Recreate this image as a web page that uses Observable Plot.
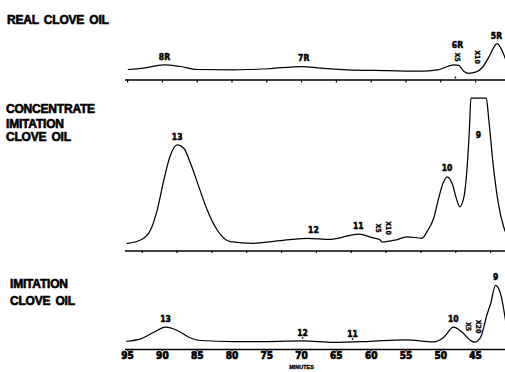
<!DOCTYPE html>
<html><head><meta charset="utf-8">
<script src="https://cdn.jsdelivr.net/npm/d3@7"></script>
<script src="https://cdn.jsdelivr.net/npm/@observablehq/plot@0.6"></script>
<style>
html,body{margin:0;padding:0;background:#fff;}
#chart{position:relative;width:505px;height:372px;overflow:hidden;background:#fff;}
.ttl{position:absolute;font:bold 12px "Liberation Sans",Arial,sans-serif;letter-spacing:-0.2px;word-spacing:2px;color:#000;line-height:12px;white-space:nowrap;-webkit-text-stroke:0.6px #000;}
.panel{position:absolute;left:0;}
</style></head>
<body><div id="chart"></div>
<script>
// ---- data (time in minutes, detector response in chart units) ----
const minuteTicks = [95, 90, 85, 80, 75, 70, 65, 60, 55, 50, 45];

// Real clove oil
const realTitle = ["REAL CLOVE OIL"];
const realMin  = [94.9, 92.7, 89.8, 87.4, 85.0, 79.7, 74.9, 69.9, 67.3, 63.4, 57.7, 52.9, 50.5, 48.1, 47.4, 46.7, 46.0, 45.0, 44.0, 43.1, 41.9, 41.2, 40.7];
const realResp = [7.0, 7.9, 10.1, 9.0, 7.0, 6.8, 7.5, 9.0, 7.9, 6.8, 6.3, 5.9, 6.7, 10.1, 9.7, 5.9, 4.5, 5.2, 8.5, 15.2, 24.3, 19.7, 14.0];
const realPeakLabels = ["8R", "7R", "6R", "5R"];
const realPeakMin = [89.7, 69.7, 47.6, 42.0];
const realAttnLabels = ["X5", "X10"];
const realAttnMin = [47.6, 44.7];
const realAxisMarkMin = [47.9];
const realCurveMarkMin = [];

// Concentrate imitation clove oil
const concTitle = ["CONCENTRATE", "IMITATION", "CLOVE OIL"];
const concMin  = [97.15, 95.24, 93.81, 92.85, 91.90, 90.94, 89.98, 89.03, 88.07, 86.88, 85.67, 84.24, 82.33, 79.03, 75.63, 71.33, 67.98, 63.97, 61.81, 60.95, 60.52, 58.66, 56.98, 54.83, 54.11, 53.16, 52.45, 51.82, 51.24, 50.52, 49.91, 49.43, 48.86, 48.37, 48.00, 47.82, 45.60, 45.27, 44.56, 43.84, 43.12, 42.88];
const concResp = [5.1, 7.3, 14.0, 27.3, 47.3, 64.0, 70.7, 68.5, 58.5, 42.9, 27.3, 14.0, 6.2, 5.1, 6.7, 8.5, 7.8, 11.3, 8.7, 7.7, 6.0, 7.3, 9.5, 8.5, 12.9, 21.8, 35.1, 45.1, 49.5, 45.1, 35.1, 29.5, 35.1, 55.1, 84.0, 102, 102, 88.5, 55.1, 30.7, 16.2, 12.9];
const concFullScale = 102;
const concPeakLabels = ["13", "12", "11", "10", "9"];
const concPeakMin = [89.98, 70.42, 63.97, 51.24, 46.75];
const concAttnLabels = ["X5", "X10"];
const concAttnMin = [61.05, 59.62];

// Imitation clove oil
const imitTitle = ["IMITATION", "CLOVE OIL"];
const imitMin  = [95.14, 93.13, 91.22, 89.54, 87.86, 86.19, 84.51, 79.73, 74.93, 69.90, 65.36, 60.56, 55.06, 51.0, 49.56, 48.20, 46.91, 45.72, 45.14, 44.28, 43.32, 42.84, 42.13, 41.41, 40.69];
const imitResp = [5.5, 7.1, 11.5, 14.9, 12.7, 8.2, 6.0, 5.3, 5.3, 5.8, 4.7, 5.3, 6.5, 5.1, 8.2, 14.9, 11.5, 6.0, 4.9, 8.2, 23.8, 30.5, 42.7, 37.1, 19.3];
const imitPeakLabels = ["13", "12", "11", "10", "9"];
const imitPeakMin = [89.54, 69.86, 62.67, 48.2, 42.13];
const imitAttnLabels = ["X5", "X20"];
const imitAttnMin = [46.1, 44.6];
const imitCurveMarkMin = [69.86, 62.67];
const axisTitle = "MINUTES";

// ---- drawing ----
const NARROW = '"Liberation Sans Narrow","DejaVu Sans Condensed","Liberation Sans",Arial,sans-serif';
const chart = document.getElementById("chart");

function interp(mins, vals, t) {
  for (let i = 0; i < mins.length - 1; i++) {
    const a = mins[i], b = mins[i + 1];
    if ((t <= a && t >= b) || (t >= a && t <= b)) {
      const f = (t - a) / (b - a);
      return vals[i] + f * (vals[i + 1] - vals[i]);
    }
  }
  return vals[0];
}

const panels = [
  {title: realTitle, titleX: 7, titleBase: [24.5], min: realMin, resp: realResp, domain: [95.3, 40.7],
   top: 0, height: 90, axis: 79.5, peakLabels: realPeakLabels, peakMin: realPeakMin,
   attnLabels: realAttnLabels, attnMin: realAttnMin, axisMarks: realAxisMarkMin, curveMarks: realCurveMarkMin,
   fullScale: Infinity, tickSize: 3, tickLabels: false},
  {title: concTitle, titleX: 6, titleBase: [113.5, 128, 141.5], min: concMin, resp: concResp, domain: [97.4, 42.85],
   top: 90, height: 170, axis: 250.5, peakLabels: concPeakLabels, peakMin: concPeakMin,
   attnLabels: concAttnLabels, attnMin: concAttnMin, axisMarks: [], curveMarks: [],
   fullScale: concFullScale, tickSize: 2.5, tickLabels: false},
  {title: imitTitle, titleX: 10, titleBase: [288, 305.5], min: imitMin, resp: imitResp, domain: [95.3, 40.7],
   top: 260, height: 112, axis: 349, peakLabels: imitPeakLabels, peakMin: imitPeakMin,
   attnLabels: imitAttnLabels, attnMin: imitAttnMin, axisMarks: [], curveMarks: imitCurveMarkMin,
   fullScale: Infinity, tickSize: 2, tickLabels: true}
];

for (const p of panels) {
  const pts = p.min.map((m, i) => ({m, r: p.resp[i]}));
  const at = t => interp(p.min, p.resp, t);
  const peaks = p.peakLabels.map((label, i) => ({label, t: p.peakMin[i]}));
  const attn = p.attnLabels.map((label, i) => ({label, t: p.attnMin[i]}));
  const stackedTest = d => attn.some(a => Math.abs(a.t - d.t) < 0.6);
  const clippedTest = d => at(d.t) >= p.fullScale - 0.01;
  const normal = peaks.filter(d => !stackedTest(d) && !clippedTest(d));
  const stacked = peaks.filter(stackedTest);
  const clipped = peaks.filter(d => !stackedTest(d) && clippedTest(d));
  const localAxis = p.axis - p.top;
  const labelStyle = {fontFamily: NARROW, fontWeight: "bold", fontSize: 8.5, fill: "#000", stroke: "#000", strokeWidth: 0.5};

  const marks = [
    Plot.ruleY([0], {stroke: "#000", strokeWidth: 1.3}),
    Plot.axisX({ticks: minuteTicks, tickSize: p.tickSize, tickFormat: () => "", label: null,
      stroke: "#000", strokeWidth: 1.2}),
    Plot.line(pts, {x: "m", y: "r", curve: "monotone-x", stroke: "#000", strokeWidth: 1.25}),
    Plot.text(normal, {x: "t", y: d => at(d.t), text: "label", dy: -8, ...labelStyle}),
    Plot.text(stacked, {x: "t", y: 0, text: "label", dy: -35, ...labelStyle}),
    Plot.text(clipped, {x: "t", y: d => at(d.t), text: "label", dy: 37, ...labelStyle}),
    Plot.text(attn, {x: "t", y: 0, text: "label", dy: -23, rotate: 90, fontFamily: NARROW, fontWeight: "bold",
      fontSize: 7, fill: "#000", stroke: "#000", strokeWidth: 0.3}),
    Plot.dot(p.axisMarks, {x: d => d, y: 0, dy: -2.5, r: 0.9, fill: "#000", stroke: null}),
    Plot.dot(p.curveMarks, {x: d => d, y: d => at(d), dy: -3, r: 0.9, fill: "#000", stroke: null})
  ];
  if (p.tickLabels) {
    marks.push(Plot.text(minuteTicks, {x: d => d, frameAnchor: "bottom", dy: 9.5, text: d => String(d),
      fontFamily: NARROW, fontWeight: "bold", fontSize: 10, fill: "#000", stroke: "#000", strokeWidth: 0.7}));
    marks.push(Plot.text([axisTitle], {x: minuteTicks[5], frameAnchor: "bottom", dy: 19, text: d => d,
      fontFamily: '"Liberation Sans",Arial,sans-serif', fontWeight: "bold", fontSize: 5.5, fill: "#000",
      stroke: "#000", strokeWidth: 0.3, letterSpacing: "1px"}));
  }

  const svg = Plot.plot({
    width: 505, height: p.height,
    marginLeft: 125, marginRight: 0, marginTop: 0, marginBottom: p.height - localAxis,
    x: {domain: p.domain},
    y: {domain: [0, 110], range: [localAxis, localAxis - 165], axis: null},
    style: {background: "transparent", overflow: "visible", color: "#000"},
    marks
  });
  svg.classList.add("panel");
  svg.style.top = p.top + "px";
  chart.appendChild(svg);

  p.title.forEach((t, i) => {
    const div = document.createElement("div");
    div.className = "ttl";
    div.textContent = t;
    div.style.left = p.titleX + "px";
    div.style.top = (p.titleBase[i] - 10.2) + "px";
    chart.appendChild(div);
  });
}
</script>
</body></html>
